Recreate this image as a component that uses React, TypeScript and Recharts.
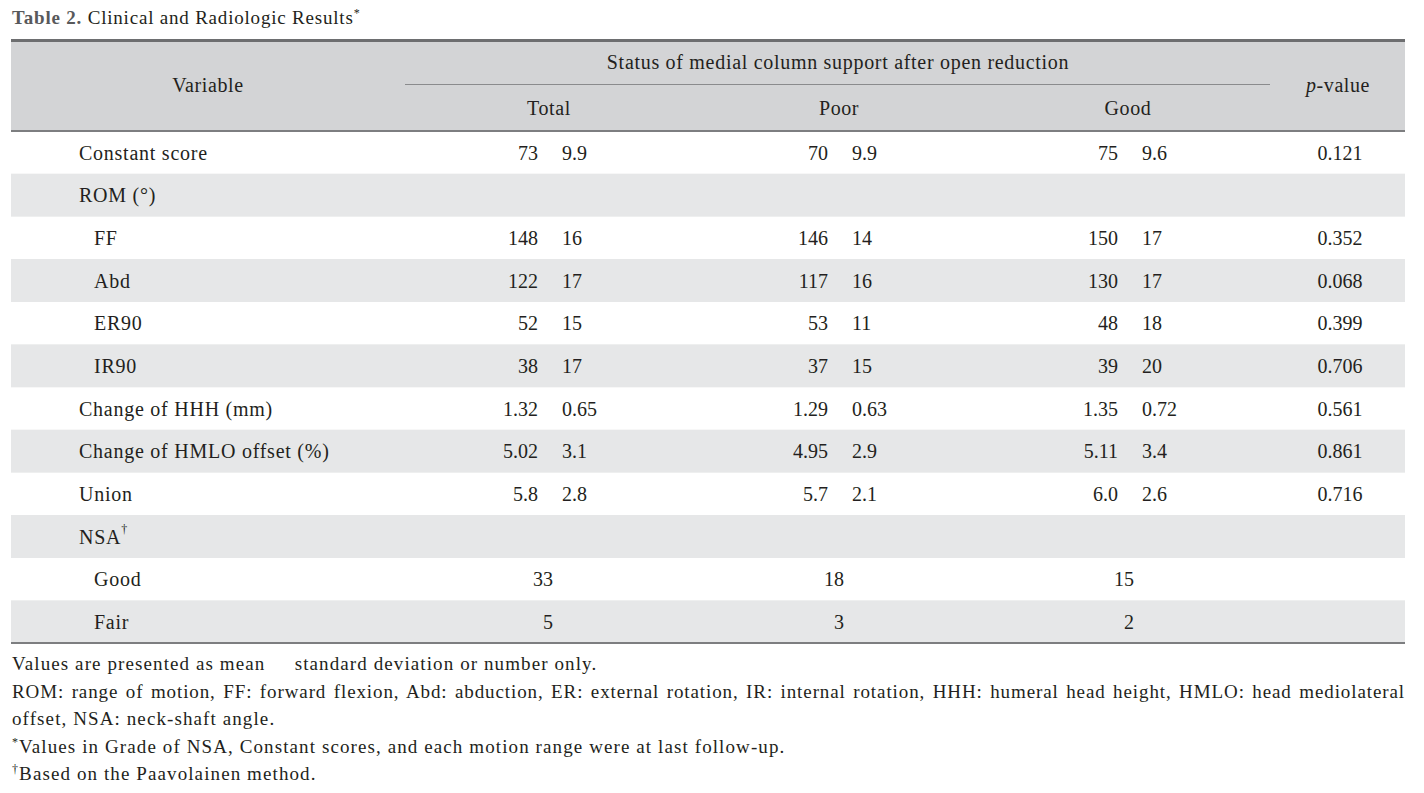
import React from "react";
import { BarChart, Bar, XAxis, YAxis } from "recharts";

// rows of the table, top to bottom
const labels = [
  "Constant score",
  "ROM (°)",
  "FF",
  "Abd",
  "ER90",
  "IR90",
  "Change of HHH (mm)",
  "Change of HMLO offset (%)",
  "Union",
  "NSA",
  "Good",
  "Fair",
];
const indent = [0, 0, 1, 1, 1, 1, 0, 0, 0, 0, 1, 1];
const daggerRow = [0, 0, 0, 0, 0, 0, 0, 0, 0, 1, 0, 0];

// mean (or count) and standard deviation per group
const totalMean = ["73", "", "148", "122", "52", "38", "1.32", "5.02", "5.8", "", "33", "5"];
const totalSd = ["9.9", "", "16", "17", "15", "17", "0.65", "3.1", "2.8", "", "", ""];
const poorMean = ["70", "", "146", "117", "53", "37", "1.29", "4.95", "5.7", "", "18", "3"];
const poorSd = ["9.9", "", "14", "16", "11", "15", "0.63", "2.9", "2.1", "", "", ""];
const goodMean = ["75", "", "150", "130", "48", "39", "1.35", "5.11", "6.0", "", "15", "2"];
const goodSd = ["9.6", "", "17", "17", "18", "20", "0.72", "3.4", "2.6", "", "", ""];
const pValues = ["0.121", "", "0.352", "0.068", "0.399", "0.706", "0.561", "0.861", "0.716", "", "", ""];

const groupNames = ["Total", "Poor", "Good"];

const rows = labels.map((label, i) => ({
  label,
  span: 1,
  indent: indent[i],
  dagger: daggerRow[i],
  means: [totalMean[i], poorMean[i], goodMean[i]],
  sds: [totalSd[i], poorSd[i], goodSd[i]],
  p: pValues[i],
}));

const FONT = '"Liberation Serif", "Times New Roman", serif';
const INK = "#231f20";
const STRIPE = "#e6e7e8";
const HEAD_BG = "#d3d4d6";

// column offsets from the table's left edge
const MEAN_RIGHT = [527, 817, 1107];
const SD_LEFT = [551, 841, 1131];
const COUNT_RIGHT = [542, 833, 1123];
const P_CENTER = 1329;

function RowShape(props: any) {
  const { x, y, width, height, payload, index } = props;
  const cy = y + height / 2;
  const isCount = payload.sds.every((s: string) => s === "") && payload.means[0] !== "";
  return (
    <g fontFamily={FONT} fontSize={20} fill={INK}>
      <rect x={x} y={y} width={width} height={height} fill={index % 2 === 1 ? STRIPE : "none"} />
      <text
        x={x + (payload.indent ? 83 : 68)}
        y={cy}
        dominantBaseline="central"
        style={{ letterSpacing: "0.75px" }}
      >
        {payload.label}
        {payload.dagger ? (
          <tspan fontSize={12} dy={-8}>
            †
          </tspan>
        ) : null}
      </text>
      {payload.means.map((m: string, g: number) =>
        m === "" ? null : (
          <text
            key={"m" + g}
            x={x + (isCount ? COUNT_RIGHT[g] : MEAN_RIGHT[g])}
            y={cy}
            textAnchor="end"
            dominantBaseline="central"
          >
            {m}
          </text>
        )
      )}
      {payload.sds.map((s: string, g: number) =>
        s === "" ? null : (
          <text key={"s" + g} x={x + SD_LEFT[g]} y={cy} dominantBaseline="central">
            {s}
          </text>
        )
      )}
      {payload.p !== "" && (
        <text x={x + P_CENTER} y={cy} textAnchor="middle" dominantBaseline="central">
          {payload.p}
        </text>
      )}
    </g>
  );
}

const abs = (left: number, top: number, extra: React.CSSProperties = {}): React.CSSProperties => ({
  position: "absolute",
  left,
  top,
  ...extra,
});

const sup: React.CSSProperties = { fontSize: 12, position: "relative", top: -7, lineHeight: 0 };
const headText: React.CSSProperties = {
  width: 200,
  textAlign: "center",
  fontSize: 20,
  lineHeight: "26px",
  letterSpacing: "0.6px",
};

export default function App() {
  return (
    <div
      style={{
        position: "absolute",
        left: 0,
        top: 0,
        width: 1424,
        height: 793,
        background: "#fff",
        fontFamily: FONT,
        color: INK,
        overflow: "hidden",
      }}
    >
      <BarChart
        width={1424}
        height={793}
        data={rows}
        layout="vertical"
        margin={{ top: 131, bottom: 150, left: 11, right: 19 }}
        barCategoryGap={0}
      >
        <XAxis type="number" domain={[0, 1]} hide />
        <YAxis type="category" dataKey="label" hide />
        <Bar dataKey="span" isAnimationActive={false} shape={RowShape} />
      </BarChart>

      {/* title */}
      <div style={abs(12, 6, { fontSize: 19, lineHeight: "24px", whiteSpace: "nowrap", letterSpacing: "0.8px" })}>
        <b style={{ color: "#58595b" }}>Table 2.</b> Clinical and Radiologic Results
        <span style={sup}>*</span>
      </div>

      {/* header block */}
      <div style={abs(11, 39, { width: 1394, height: 92, background: HEAD_BG })} />
      <div style={abs(11, 39, { width: 1394, height: 3, background: "#6d6e70" })} />
      <div style={abs(11, 130, { width: 1394, height: 2, background: "#7d7e80" })} />
      <div style={abs(405, 84, { width: 865, height: 1, background: "#8a8b8d" })} />
      <div style={abs(108, 72, headText)}>Variable</div>
      <div style={abs(538, 49, { ...headText, width: 600, letterSpacing: "0.7px" })}>
        Status of medial column support after open reduction
      </div>
      {groupNames.map((g, i) => (
        <div key={g} style={abs([449, 739, 1028][i], 95, headText)}>
          {g}
        </div>
      ))}
      <div style={abs(1238, 72, headText)}>
        <i>p</i>-value
      </div>

      {/* bottom rule */}
      <div style={abs(11, 642, { width: 1394, height: 2, background: "#7d7e80" })} />

      {/* footnotes */}
      <div style={abs(12, 650, { width: 1393, fontSize: 19, lineHeight: "27.5px", letterSpacing: "1.1px" })}>
        <div>Values are presented as mean &nbsp;&nbsp;&nbsp; standard deviation or number only.</div>
        <div style={{ textAlign: "justify", textAlignLast: "justify", whiteSpace: "nowrap", letterSpacing: "0.9px" }}>
          ROM: range of motion, FF: forward flexion, Abd: abduction, ER: external rotation, IR: internal rotation, HHH: humeral head height, HMLO: head mediolateral
        </div>
        <div>offset, NSA: neck-shaft angle.</div>
        <div>
          <span style={sup}>*</span>Values in Grade of NSA, Constant scores, and each motion range were at last follow-up.
        </div>
        <div>
          <span style={sup}>†</span>Based on the Paavolainen method.
        </div>
      </div>
    </div>
  );
}
